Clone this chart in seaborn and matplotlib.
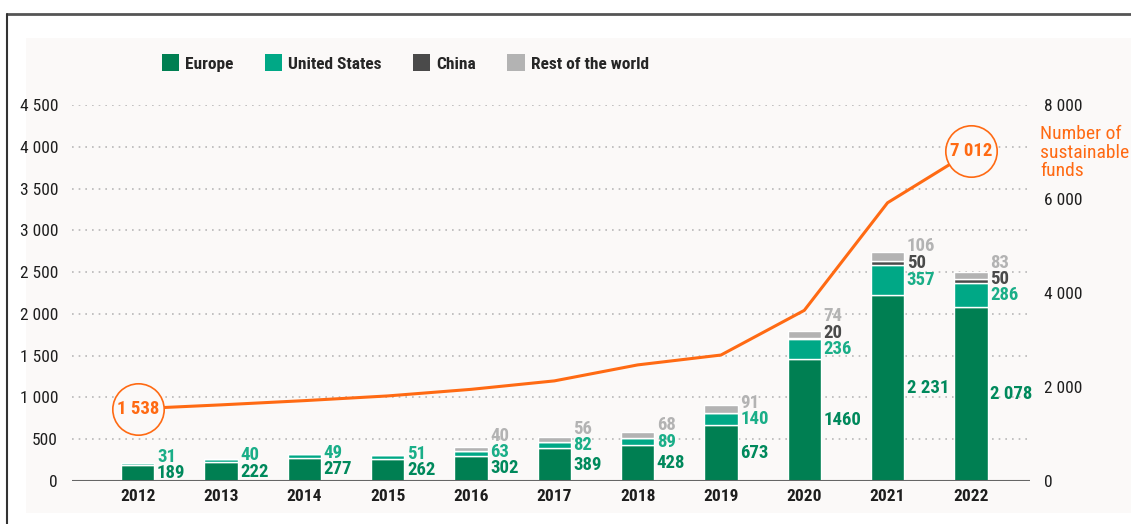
import matplotlib
matplotlib.use("Agg")
import matplotlib.pyplot as plt
import matplotlib.font_manager as fm
import seaborn as sns
import numpy as np
import pandas as pd
from collections import defaultdict
from matplotlib.patches import Patch, Rectangle
from matplotlib.lines import Line2D

years = ["2012", "2013", "2014", "2015", "2016", "2017", "2018", "2019", "2020", "2021", "2022"]
europe = [189, 222, 277, 262, 302, 389, 428, 673, 1460, 2231, 2078]
united_states = [31, 40, 49, 51, 63, 82, 89, 140, 236, 357, 286]
china = [0, 0, 0, 0, 0, 0, 0, 0, 20, 50, 50]
rest_world = [0, 0, 0, 0, 40, 56, 68, 91, 74, 106, 83]
sustainable_funds = [1538, 1620, 1710, 1810, 1950, 2130, 2470, 2680, 3630, 5920, 7012]

europe_lbl = ["189", "222", "277", "262", "302", "389", "428", "673", "1460", "2 231", "2 078"]
left_ticks = [0, 500, 1000, 1500, 2000, 2500, 3000, 3500, 4000, 4500]
left_tick_lbl = ["0", "500", "1 000", "1 500", "2 000", "2 500", "3 000", "3 500", "4 000", "4 500"]
right_ticks = [0, 2000, 4000, 6000, 8000]
right_tick_lbl = ["0", "2 000", "4 000", "6 000", "8 000"]
series_names = ["Europe", "United States", "China", "Rest of the world"]

C_EU = "#007f52"
C_US = "#00a886"
C_CN = "#4a4a4a"
C_RW = "#b3b3b3"
C_LBL_EU = "#00895c"
C_LBL_US = "#1aae88"
C_ORANGE = "#ff6a13"
BG = "#fbf9f8"

sns.set_theme(style="white")


def _w(v):
    if isinstance(v, (int, float)):
        return int(v)
    return int(fm.weight_dict.get(str(v), 400))


fams = defaultdict(set)
for f in fm.fontManager.ttflist:
    fams[(f.name, str(f.stretch))].add(_w(f.weight))

cond_keys = []
for (name, stretch), ws in fams.items():
    is_cond = ("Narrow" in name or "Condensed" in name or
               stretch in ("condensed", "semi-condensed", "extra-condensed", "75", "87"))
    if is_cond and max(ws) >= 600 and min(ws) <= 500:
        cond_keys.append((name, stretch))

pref = ["Liberation Sans Narrow", "Roboto Condensed", "Open Sans Condensed", "DejaVu Sans Condensed",
        "DejaVu Sans", "Noto Sans", "Open Sans", "Roboto"]


def _rank(k):
    for i, p in enumerate(pref):
        if k[0] == p:
            return (i, k[1] != "condensed")
    return (99, 0)


cond_keys.sort(key=_rank)
if cond_keys:
    cond_family, cond_stretch = cond_keys[0]
else:
    cond_family, cond_stretch = "Liberation Sans", "normal"
try:
    cond_stretch = int(cond_stretch)
except ValueError:
    pass

FONT = [cond_family, "Liberation Sans", "DejaVu Sans"]
plt.rcParams["font.family"] = FONT
plt.rcParams["font.stretch"] = cond_stretch

fig = plt.figure(figsize=(11.31, 5.24), dpi=100)
fig.patch.set_facecolor("white")
W, H = 1131, 524
fig.patches.append(Rectangle((26 / W, 1 - 513 / H), 1 - 26 / W, (513 - 38) / H,
                             transform=fig.transFigure, facecolor=BG, edgecolor="none", zorder=-10))
fig.lines.append(Line2D([7 / W, 1], [1 - 14 / H, 1 - 14 / H], transform=fig.transFigure, color="#555555", lw=2))
fig.lines.append(Line2D([7 / W, 7 / W], [0, 1 - 14 / H], transform=fig.transFigure, color="#333333", lw=1.5))

ax = fig.add_axes([72 / W, 43 / H, (1030 - 72) / W, (481 - 105) / H])
ax.set_facecolor("none")

df = pd.DataFrame({"year": years, "Europe": europe, "United States": united_states,
                   "China": china, "Rest of the world": rest_world})
x = np.arange(len(years))
bw = 0.4
bottoms = np.zeros(len(years))
colors = [C_EU, C_US, C_CN, C_RW]
for name, col in zip(series_names, colors):
    vals = df[name].to_numpy(dtype=float)
    sns.barplot(x=x, y=vals, bottom=bottoms, color=col, width=bw, ax=ax,
                edgecolor="white", linewidth=1.0, native_scale=True, saturation=1, zorder=3)
    bottoms = bottoms + vals

ax.set_xlim(-0.79, 10.71)
ax.set_ylim(0, 4500)

for t in left_ticks[1:]:
    ax.axhline(t, color="#b8b8b8", lw=1.2, ls=(0, (1, 3)), zorder=1)
ax.axhline(0, color="#666666", lw=1.5, zorder=4)

ax.set_yticks(left_ticks)
ax.set_yticklabels(left_tick_lbl, fontsize=12.5, color="#1e1e1e", fontweight="normal")
ax.set_xticks(x)
ax.set_xticklabels(years, fontsize=12.5, color="#1e1e1e", fontweight="bold")
ax.tick_params(axis="both", length=0, pad=6)
ax.tick_params(axis="y", pad=10)
for s in ax.spines.values():
    s.set_visible(False)
ax.set_xlabel("")
ax.set_ylabel("")

min_gap = 196
for i in range(len(years)):
    segs = [(europe[i], europe_lbl[i], C_LBL_EU),
            (united_states[i], str(united_states[i]), C_LBL_US),
            (china[i], str(china[i]), C_CN),
            (rest_world[i], str(rest_world[i]), C_RW)]
    base = 0
    prev_y = None
    for v, lbl, c in segs:
        if v <= 0:
            continue
        y = base + v / 2
        if prev_y is not None and y < prev_y + min_gap:
            y = prev_y + min_gap
        ax.text(i + bw / 2 + 0.03, y, lbl, color=c, fontsize=13.5, fontweight="bold",
                ha="left", va="center", zorder=5)
        prev_y = y
        base += v

ax2 = ax.twinx()
ax2.set_ylim(0, 8000)
ax2.set_xlim(-0.79, 10.71)
sns.lineplot(x=x, y=sustainable_funds, ax=ax2, color=C_ORANGE, lw=2.2, zorder=6)
for idx in [0, len(years) - 1]:
    ax2.plot(x[idx], sustainable_funds[idx], marker="o", ms=37, mfc=BG, mec=C_ORANGE, mew=1.2, zorder=7)
    ax2.text(x[idx], sustainable_funds[idx], f"{sustainable_funds[idx]:,}".replace(",", " "),
             color=C_ORANGE, fontsize=13.5, fontweight="bold", ha="center", va="center", zorder=8)
ax2.set_yticks(right_ticks)
ax2.set_yticklabels(right_tick_lbl, fontsize=12.5, color="#1e1e1e", fontweight="normal")
ax2.tick_params(axis="y", length=0, pad=10)
for s in ax2.spines.values():
    s.set_visible(False)
ax2.set_ylabel("")
ax2.grid(False)
ax.grid(False)

fig.text(1040 / W, 1 - 125 / H, "Number of\nsustainable\nfunds", color=C_ORANGE, fontsize=14,
         fontweight="normal", ha="left", va="top", linespacing=1.05)

handles = [Patch(facecolor=c, edgecolor="none") for c in colors]
fig.legend(handles, series_names, loc="center left", bbox_to_anchor=(146 / W, 1 - 63 / H), ncol=4,
           frameon=False, handlelength=1.0, handleheight=1.1, handletextpad=0.35,
           columnspacing=1.8, prop={"weight": "bold", "size": 12.5})

fig.savefig("out.png", dpi=100, facecolor="white")
